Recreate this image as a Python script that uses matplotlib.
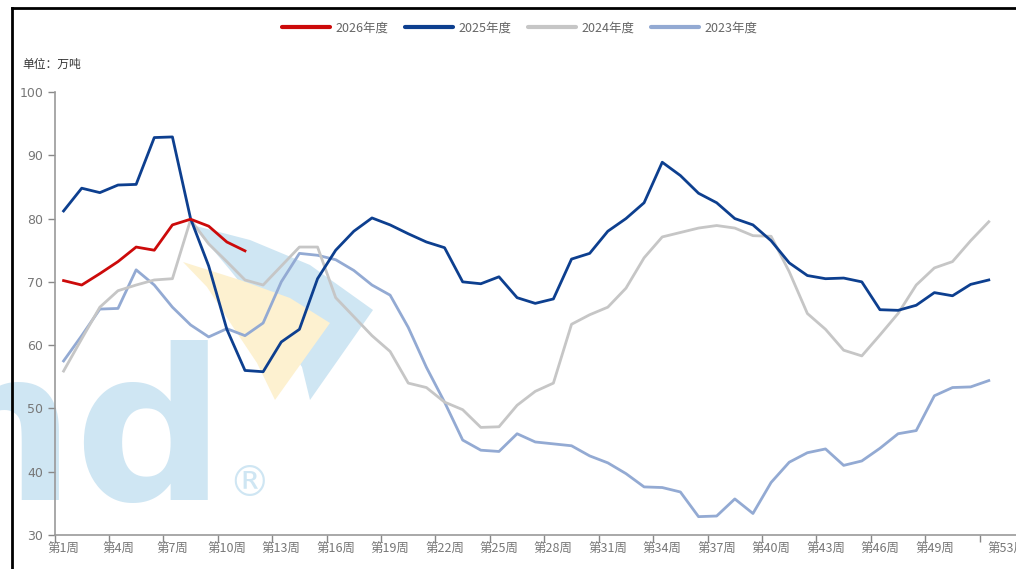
import numpy as np
import matplotlib
matplotlib.use("Agg")
import matplotlib.pyplot as plt
from matplotlib.patches import Polygon
from matplotlib.lines import Line2D

plt.rcParams['font.family'] = ['Noto Sans CJK SC', 'DejaVu Sans']

# weekly inventory, 万吨
weeks = np.arange(1, 53)
s2026 = [70.2, 69.5, 71.3, 73.2, 75.5, 75.0, 79.0, 79.9, 78.8, 76.3, 74.9]
s2025 = [81.2, 84.8, 84.1, 85.3, 85.4, 92.8, 92.9, 80.0, 72.5, 62.5,
         56.0, 55.8, 60.5, 62.5, 70.5, 75.0, 78.0, 80.1, 79.0, 77.6,
         76.3, 75.4, 70.0, 69.7, 70.8, 67.5, 66.6, 67.3, 73.6, 74.5,
         78.0, 80.0, 82.5, 88.9, 86.8, 84.0, 82.5, 80.0, 79.0, 76.5,
         73.0, 71.0, 70.5, 70.6, 70.0, 65.6, 65.5, 66.3, 68.3, 67.8,
         69.6, 70.3]
s2024 = [55.9, 61.0, 66.0, 68.6, 69.5, 70.3, 70.5, 79.8, 76.0, 73.2,
         70.3, 69.5, 72.5, 75.5, 75.5, 67.5, 64.5, 61.5, 59.0, 54.0,
         53.3, 51.0, 49.8, 47.0, 47.1, 50.5, 52.7, 54.0, 63.3, 64.8,
         66.0, 69.0, 73.8, 77.1, 77.8, 78.5, 78.9, 78.5, 77.3, 77.2,
         71.6, 65.0, 62.5, 59.2, 58.3, 61.6, 65.0, 69.5, 72.2, 73.2,
         76.5, 79.5]
s2023 = [57.5, 61.5, 65.7, 65.8, 71.9, 69.5, 66.0, 63.2, 61.3, 62.6,
         61.5, 63.5, 70.0, 74.5, 74.2, 73.5, 71.8, 69.5, 67.9, 62.8,
         56.5, 51.0, 45.0, 43.4, 43.2, 46.0, 44.7, 44.4, 44.1, 42.5,
         41.4, 39.7, 37.6, 37.5, 36.8, 32.9, 33.0, 35.7, 33.4, 38.3,
         41.5, 43.0, 43.6, 41.0, 41.7, 43.7, 46.0, 46.5, 52.0, 53.3,
         53.4, 54.4]

label_weeks = [1, 4, 7, 10, 13, 16, 19, 22, 25, 28, 31, 34, 37, 40, 43, 46, 49, 53]
tick_weeks = [1, 4, 7, 10, 13, 16, 19, 22, 25, 28, 31, 34, 37, 40, 43, 46, 49, 52]

W, H = 1016, 569
fig = plt.figure(figsize=(W / 100, H / 100), dpi=100)


def px(x, y):
    # pixel position -> figure fraction
    return (x / W, 1 - y / H)


# background watermark shapes
wm_blue = '#cfe6f3'
wm_yellow = '#fdf1d0'
blue_pts = [(192, 225), (250, 240), (310, 265), (373, 310), (310, 400),
            (302, 367), (270, 320), (230, 270)]
yellow_pts = [(183, 262), (240, 280), (290, 298), (330, 323), (275, 400),
              (257, 363), (233, 327), (207, 287)]
fig.add_artist(Polygon([px(*p) for p in blue_pts], closed=True,
                       transform=fig.transFigure, color=wm_blue, lw=0, zorder=0))
fig.add_artist(Polygon([px(*p) for p in yellow_pts], closed=True,
                       transform=fig.transFigure, color=wm_yellow, lw=0, zorder=0))
fig.text(*px(226, 500), "nd", fontsize=152, fontweight='bold',
         color=wm_blue, ha='right', va='baseline', family='DejaVu Sans', zorder=0)
fig.text(*px(249, 484), "®", fontsize=30, color=wm_blue, ha='center',
         va='center', family='DejaVu Sans', zorder=0)

ax = fig.add_axes([54.5 / W, 1 - 535 / H, 1 - 54.5 / W, (535 - 92) / H])
ax.set_zorder(1)
ax.patch.set_alpha(0)

ax.plot(weeks[:len(s2023)], s2023, color='#93aad3', lw=2.0, label='2023年度', zorder=2)
ax.plot(weeks[:len(s2024)], s2024, color='#c6c6c6', lw=2.0, label='2024年度', zorder=3)
ax.plot(weeks[:len(s2025)], s2025, color='#0d3f8f', lw=2.0, label='2025年度', zorder=4)
ax.plot(weeks[:len(s2026)], s2026, color='#cc0a0a', lw=2.0, label='2026年度', zorder=5)

ax.set_xlim(0.5, 53.5)
ax.set_ylim(30, 100)
ax.set_yticks(range(30, 101, 10))
ax.set_xticks([w - 0.5 for w in tick_weeks])
ax.set_xticklabels([])
ax.set_xticks(label_weeks, minor=True)
ax.set_xticklabels([f"第{w}周" for w in label_weeks], minor=True)
ax.tick_params(axis='x', which='major', length=5, color='#888888', width=1)
ax.tick_params(axis='x', which='minor', length=0, labelsize=9,
               labelcolor='#777777', pad=6)
ax.tick_params(axis='y', length=5, color='#888888', width=1,
               labelsize=9, labelcolor='#777777', pad=3)
for t in ax.get_yticklabels():
    t.set_family(['DejaVu Sans'])

for side in ['top', 'right']:
    ax.spines[side].set_visible(False)
for side in ['left', 'bottom']:
    ax.spines[side].set_color('#999999')
    ax.spines[side].set_linewidth(1.2)

fig.text(*px(22, 64), "单位：万吨", fontsize=8.5, color='#333333',
         ha='left', va='center')

handles, labels = ax.get_legend_handles_labels()
order = [3, 2, 1, 0]
leg = fig.legend([Line2D([], [], color=handles[i].get_color(), lw=3,
                         solid_capstyle='round') for i in order],
                 [labels[i] for i in order],
                 loc='center', bbox_to_anchor=px(520, 28), ncol=4,
                 frameon=False, fontsize=9, handlelength=3.8,
                 handletextpad=0.5, columnspacing=1.3)
for t in leg.get_texts():
    t.set_color('#666666')

# outer frame
fig.add_artist(Line2D([12 / W, 1], [1 - 8 / H, 1 - 8 / H], color='black',
                      lw=2, transform=fig.transFigure))
fig.add_artist(Line2D([12 / W, 12 / W], [0, 1 - 8 / H], color='black',
                      lw=2, transform=fig.transFigure))

fig.savefig("out.png", dpi=100)
